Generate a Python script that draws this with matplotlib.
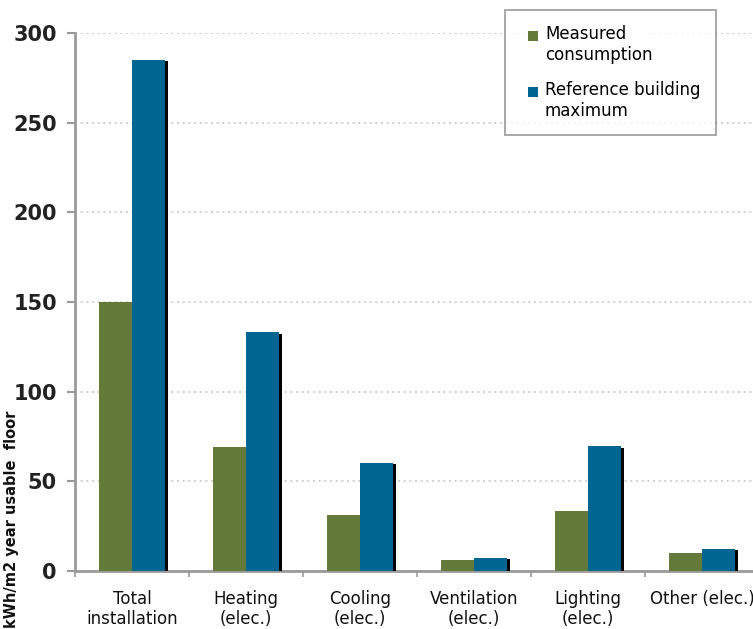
import matplotlib
matplotlib.use("Agg")
import matplotlib.pyplot as plt
import matplotlib.patheffects as pe
from matplotlib.patches import Rectangle
from matplotlib.legend_handler import HandlerPatch
from matplotlib.container import BarContainer
import numpy as np

categories = ["Total\ninstallation", "Heating\n(elec.)", "Cooling\n(elec.)",
              "Ventilation\n(elec.)", "Lighting\n(elec.)", "Other (elec.)"]
measured = [150, 69, 31.5, 6, 33.5, 10]
reference = [285, 133, 60.5, 7.5, 69.5, 12.5]
series_names = ["Measured\nconsumption", "Reference building\nmaximum"]
yticks = [0, 50, 100, 150, 200, 250, 300]

plt.rcParams["font.family"] = ["DejaVu Sans"]

fig = plt.figure(figsize=(7.53, 6.29), dpi=100)
ax = fig.add_axes([75 / 753, 58 / 629, 684 / 753, 538 / 629])

green = "#637a3b"
blue = "#006590"
x = np.arange(len(categories))
w = 0.29
shadow = [pe.SimplePatchShadow(offset=(2.2, -1.0), shadow_rgbFace="black", alpha=1.0),
          pe.Normal()]

b1 = ax.bar(x - w / 2, measured, width=w, color=green, zorder=3, label=series_names[0])
b2 = ax.bar(x + w / 2, reference, width=w, color=blue, zorder=4, label=series_names[1])
for bars in (b1, b2):
    for p in bars:
        p.set_path_effects(shadow)

ax.set_xlim(-0.5, len(categories) - 0.5)
ax.set_ylim(0, 300)
ax.set_yticks(yticks)
ax.set_yticklabels([str(v) for v in yticks], fontsize=15, fontweight="bold", color="#222222")
ax.yaxis.grid(True, linestyle=(0, (1.2, 2.2)), color="#c8c8c8", linewidth=1.2, zorder=0)
ax.set_axisbelow(True)

ax.set_xticks(x)
ax.set_xticklabels(categories, fontsize=12, color="#111111", linespacing=1.12)
ax.tick_params(axis="x", length=0, pad=14)
ax.set_xticks(np.arange(len(categories) + 1) - 0.5, minor=True)
ax.tick_params(axis="x", which="minor", length=4, color="#999999", width=1.2)
ax.tick_params(axis="y", length=6, color="#999999", width=1.5, pad=7, direction="out")

for side in ("top", "right"):
    ax.spines[side].set_visible(False)
for side in ("left", "bottom"):
    ax.spines[side].set_color("#9a9a9a")
    ax.spines[side].set_linewidth(2)

fig.text(12 / 753, 1 - 519 / 629, "kWh/m2 year usable  floor", rotation=90,
         ha="center", va="center", fontsize=10.5, fontweight="bold", color="#111111")


def first_line_square(legend, orig_handle, xdescent, ydescent, width, height, fontsize):
    # small square key, right-aligned in its slot and level with the first label line
    side = 0.6 * fontsize
    return Rectangle((-xdescent + width - side, -ydescent + 0.6 * fontsize), side, side)


def copy_colour(legend_handle, orig_handle):
    legend_handle.update_from(orig_handle[0])
    legend_handle.set_path_effects([])


leg = ax.legend(loc="upper left", bbox_to_anchor=(430 / 684, (571 - 10) / 538),
                fontsize=12, frameon=True, fancybox=False, edgecolor="#8a8a8a",
                handlelength=1.1, handleheight=0.6, handletextpad=0.4,
                labelspacing=1.05, borderpad=0.9, borderaxespad=0,
                handler_map={BarContainer: HandlerPatch(patch_func=first_line_square,
                                                        update_func=copy_colour)})
leg.get_frame().set_linewidth(1.3)

fig.savefig("out.png", dpi=100)
